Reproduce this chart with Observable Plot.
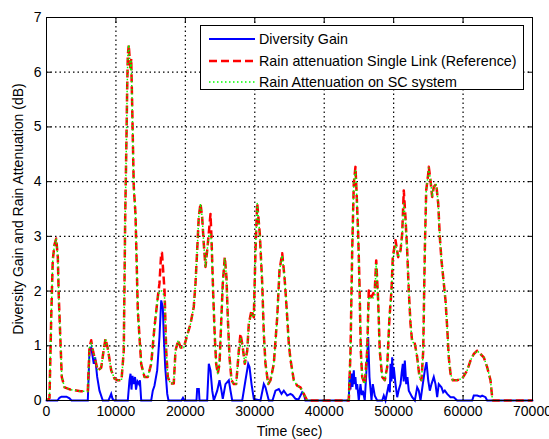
<!DOCTYPE html>
<html><head><meta charset="utf-8">
<script src="https://cdn.jsdelivr.net/npm/d3@7"></script>
<script src="https://cdn.jsdelivr.net/npm/@observablehq/plot@0.6"></script>
<style>
body{margin:0;background:#fff;font-family:"Liberation Sans",Arial,sans-serif;}
#wrap{position:relative;width:549px;height:439px;}
#legend{position:absolute;left:200px;top:25px;width:322px;height:63px;border:1px solid #000;background:#fff;}
.row{position:absolute;left:8px;height:20px;display:flex;align-items:center;font-size:14.3px;color:#000;white-space:nowrap;}
.row svg{margin-right:4px;}
</style></head><body><div id="wrap"></div>
<script>
// Time axis (sec) for the two attenuation series
const timeAtt = [0,430,680,900,1150,1400,1630,1770,1970,2200,2600,3450,4900,5950,6190,6440,6620,6900,7390,7880,8210,8500,8830,9320,9790,10270,10800,11130,11335,11520,11620,11710,11850,12000,12100,12200,12340,12430,12570,12820,13150,13640,14110,14590,15080,15550,16030,16270,16520,16630,17000,17240,17470,17860,18330,18580,18970,19300,19770,20260,20740,21210,21460,21700,21930,22180,22420,22650,22900,23140,23370,23620,23760,24010,24240,24440,24670,24920,25390,25680,25920,26110,26360,26650,26980,27320,27700,27940,28270,28560,28910,29140,29530,29860,30100,30350,30720,31070,31300,31540,31930,32260,32740,33230,33560,33950,34280,34420,34670,34900,35140,35620,36110,36580,37060,37550,43540,43790,44030,44260,44500,44650,44890,45080,45270,45470,45840,46190,46420,46810,47280,47490,47770,48000,48350,48720,49070,49400,49690,49880,50270,50650,50990,51230,51460,51700,51950,52180,52430,52670,53050,53390,53720,54010,54260,54490,54690,54980,55060,55310,55550,55780,56130,56420,56650,56890,57140,57470,57710,57940,58190,58520,59150,59870,60590,61070,61540,62030,62510,62980,63470,63950,64190,64300,70000];
// Rain attenuation Single Link (Reference), dB
const attRef = [0,0.04,1.52,2.56,2.85,2.96,2.62,1.89,1.22,0.43,0.24,0.2,0.17,0.17,0.97,1.1,0.95,0.8,0.55,0.6,0.9,1.13,0.95,0.55,0.4,0.37,0.37,0.91,3.35,4.8,5.7,6.3,6.5,6.2,6.05,6.25,5.4,4.8,3.9,3.4,1.65,0.67,0.43,0.43,0.67,1.34,1.89,2.14,2.69,2.7,2.01,0.91,0.43,0.31,0.31,0.91,1.1,0.97,0.97,1.19,1.4,1.71,2.14,2.74,3.35,3.6,3.35,2.87,2.44,2.74,3.05,3.41,2.99,1.95,1.16,0.67,0.49,0.67,2.14,2.62,2.25,1.52,0.79,0.37,0.3,0.3,0.91,1.22,0.97,0.67,0.91,1.4,1.65,1.52,2.74,3.6,3.05,2.14,1.22,0.67,0.3,0.37,0.67,1.52,2.38,2.69,2.25,2.01,1.52,1.04,0.75,0.37,0.27,0.24,0.12,0,0,0.91,2.74,3.96,4.27,3.84,3.05,2.14,0.91,0.43,0.3,0.91,2.01,1.89,2.01,2.56,1.83,0.91,0.43,0.37,0.61,1.52,2.01,2.62,2.93,2.62,2.74,3.05,3.84,3.35,2.74,2.01,1.4,1.07,1.04,0.79,0.43,0.37,0.91,2.74,3.84,4.14,4.27,4.02,3.72,3.9,3.96,3.6,2.99,2.56,2.25,1.83,1.34,0.79,0.49,0.37,0.37,0.4,0.55,0.73,0.85,0.91,0.85,0.79,0.61,0.37,0.06,0,0];
// Rain Attenuation on SC system, dB
const attSC = [0,0.04,1.52,2.56,2.85,2.96,2.62,1.89,1.22,0.43,0.24,0.2,0.17,0.17,0.97,1.05,0.95,0.8,0.55,0.6,0.9,1.13,0.95,0.55,0.4,0.37,0.37,0.91,3.35,4.8,5.7,6.3,6.5,6.2,6.05,6.2,5.4,4.8,3.9,3.4,1.65,0.67,0.43,0.43,0.67,1.34,1.89,2.0,2.0,2.0,1.9,0.91,0.43,0.31,0.31,0.91,1.1,0.97,0.97,1.19,1.4,1.71,2.14,2.74,3.35,3.6,3.35,2.87,2.44,2.74,3.0,3.05,2.9,1.95,1.16,0.67,0.49,0.67,2.14,2.6,2.25,1.52,0.79,0.37,0.3,0.3,0.91,1.15,0.97,0.67,0.91,1.4,1.6,1.52,2.74,3.6,3.05,2.14,1.22,0.67,0.3,0.37,0.67,1.52,2.38,2.65,2.25,2.01,1.52,1.04,0.75,0.37,0.27,0.24,0.12,0,0,0.91,2.74,3.96,4.2,3.84,3.05,2.14,0.91,0.43,0.3,0.91,1.9,1.85,1.9,2.5,1.83,0.91,0.43,0.37,0.61,1.52,2.01,2.6,2.85,2.62,2.74,3.0,3.6,3.3,2.74,2.01,1.4,1.07,1.04,0.79,0.43,0.37,0.91,2.74,3.84,4.14,4.25,4.02,3.72,3.9,3.96,3.6,2.99,2.56,2.25,1.83,1.34,0.79,0.49,0.37,0.37,0.4,0.55,0.73,0.85,0.91,0.85,0.79,0.61,0.37,0.06,0,0];
// Diversity Gain
const timeGain = [0,1580,1870,2160,2880,3310,3600,5950,6190,6440,6810,7010,7300,7630,8110,8930,9320,9510,9790,11710,11950,12100,12240,12390,12530,12750,12890,13100,13320,13460,13640,15080,15310,15550,15940,16270,16520,16750,16900,17100,17390,17570,19440,19660,19880,21600,21700,21940,22040,23140,23380,23620,23870,24100,24590,24920,25200,25390,25780,26260,26500,26750,28190,28660,29050,29240,29530,29860,30820,31300,31540,32020,32550,32980,33460,33850,34180,34670,35140,35430,35860,36300,36830,37060,37300,43540,43640,43780,43930,44070,44260,44360,44500,44620,44750,44980,45220,45400,45560,45840,46190,46330,46520,46810,47000,47280,47630,48350,48580,48830,49300,49450,49550,49680,49790,49900,50020,50270,50510,50750,50990,51150,51320,51450,51610,51810,51990,52180,52670,53050,53390,53620,53870,54200,54490,54730,54980,55210,55450,55780,56030,56270,56500,56890,57140,57370,57710,58190,58660,59150,61310,61540,62030,62510,62750,63230,63470,70000];
const gain = [0,0,0.05,0.07,0.07,0.04,0,0,0.91,0.97,0.67,0.79,0.43,0.18,0,0,0.12,0.03,0,0,0.37,0.49,0.2,0.45,0.3,0.43,0.2,0.35,0.3,0.37,0,0,0.18,0.27,0.55,1.16,1.83,1.71,1.16,0.61,0.12,0,0,0.05,0,0,0.21,0.21,0,0,0.67,0.55,0.18,0,0.18,0.37,0.18,0.03,0.3,0.37,0.18,0,0,0.37,0.67,0.61,0.3,0.03,0,0.3,0.24,0,0,0.18,0.21,0.12,0.18,0.09,0.12,0.1,0.03,0.02,0.15,0.12,0,0,0.43,0.2,0.49,0.25,0.55,0.3,0.43,0.2,0.3,0,0.3,0.1,0.18,0,0.79,1.16,0.43,0,0.3,0.09,0,0,0.09,0,0.3,0.15,0.67,0.35,0.79,0.4,0.61,0.3,0.06,0.2,0.3,0.5,0.67,0.35,0.73,0.3,0.43,0.18,0.06,0,0.24,0.18,0,0.3,0.55,0.7,0.37,0.18,0.3,0.43,0.3,0.06,0.3,0.24,0.15,0.18,0.12,0.06,0.06,0,0,0.09,0.09,0.07,0.09,0.06,0,0];

const xTicks = [0,10000,20000,30000,40000,50000,60000,70000];
const yTicks = [0,1,2,3,4,5,6,7];
const seriesNames = ["Diversity Gain","Rain attenuation Single Link (Reference)","Rain Attenuation on SC system"];
const xLabel = "Time (sec)";
const yLabel = "Diversity Gain and Rain Attenuation (dB)";

const gainData = timeGain.map((t,i)=>({t, v: gain[i]}));
const refData = timeAtt.map((t,i)=>({t, v: attRef[i]}));
const scData = timeAtt.map((t,i)=>({t, v: attSC[i]}));

const styles = [
  {stroke:"#0000ff", strokeWidth:2, dash:null},
  {stroke:"#ff0000", strokeWidth:2.5, dash:"8,4"},
  {stroke:"#00ff00", strokeWidth:1.5, dash:"1.5,2.5"}
];

const fs = 14;
const noText = () => "";
const plot = Plot.plot({
  width:549, height:439,
  marginLeft:46, marginRight:17, marginTop:17, marginBottom:39,
  style:{fontFamily:"'Liberation Sans', Arial, sans-serif", fontSize:fs+"px", background:"white", color:"black", overflow:"visible"},
  x:{domain:[0,70000]},
  y:{domain:[0,7]},
  marks:[
    Plot.ruleX(xTicks.slice(1,-1),{x:d=>d, stroke:"#000", strokeOpacity:1, strokeWidth:1.2, strokeDasharray:"1.5,3"}),
    Plot.ruleY(yTicks.slice(1,-1),{y:d=>d, stroke:"#000", strokeOpacity:1, strokeWidth:1.2, strokeDasharray:"1.5,3"}),
    Plot.line(gainData,{x:"t", y:"v", stroke:styles[0].stroke, strokeWidth:styles[0].strokeWidth, strokeLinejoin:"miter", strokeMiterlimit:4}),
    Plot.line(refData,{x:"t", y:"v", stroke:styles[1].stroke, strokeWidth:styles[1].strokeWidth, strokeDasharray:styles[1].dash, strokeLinecap:"butt"}),
    Plot.line(scData,{x:"t", y:"v", stroke:styles[2].stroke, strokeWidth:styles[2].strokeWidth, strokeDasharray:styles[2].dash, strokeLinecap:"butt"}),
    Plot.frame({stroke:"black"}),
    Plot.axisX({ticks:xTicks, anchor:"bottom", tickSize:0, tickPadding:6, tickFormat:d=>String(d), label:null, fontSize:fs}),
    Plot.axisX({ticks:xTicks, anchor:"bottom", tickSize:5, dy:-5, tickFormat:noText, label:null, strokeOpacity:1}),
    Plot.axisX({ticks:xTicks, anchor:"top", tickSize:5, dy:5, tickFormat:noText, label:null, strokeOpacity:1}),
    Plot.axisY({ticks:yTicks, anchor:"left", tickSize:0, tickPadding:5, tickFormat:d=>String(d), label:null, fontSize:fs}),
    Plot.axisY({ticks:yTicks, anchor:"left", tickSize:5, dx:5, tickFormat:noText, label:null, strokeOpacity:1}),
    Plot.axisY({ticks:yTicks, anchor:"right", tickSize:5, dx:-5, tickFormat:noText, label:null, strokeOpacity:1}),
    Plot.text([xLabel],{frameAnchor:"bottom", dy:31, textAnchor:"middle", lineAnchor:"middle", fontSize:fs, fill:"black"}),
    Plot.text([yLabel],{frameAnchor:"left", dx:-28, rotate:-90, textAnchor:"middle", lineAnchor:"middle", fontSize:fs, fill:"black"})
  ]
});
const wrap = document.getElementById("wrap");
wrap.appendChild(plot);

// Legend
const legend = document.createElement("div");
legend.id = "legend";
const rowCenters = [13,35,56];
seriesNames.forEach((name,i)=>{
  const row = document.createElement("div");
  row.className = "row";
  row.style.top = (rowCenters[i]-10)+"px";
  const s = styles[i];
  row.innerHTML = `<svg width="46" height="20"><line x1="0" x2="46" y1="10" y2="10" stroke="${s.stroke}" stroke-width="${s.strokeWidth}" ${s.dash?`stroke-dasharray="${s.dash}"`:""}/></svg><span>${name}</span>`;
  legend.appendChild(row);
});
wrap.appendChild(legend);
</script>
</body></html>
